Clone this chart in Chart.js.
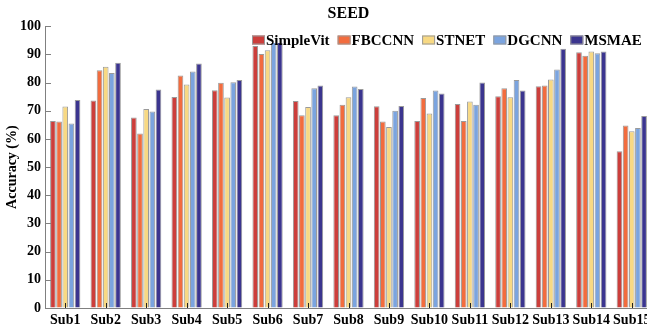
<!DOCTYPE html>
<html>
<head>
<meta charset="utf-8">
<script src="https://cdn.jsdelivr.net/npm/chart.js@4.4.0/dist/chart.umd.min.js"></script>
<style>
  html, body { margin: 0; padding: 0; background: #fff; overflow: hidden; }
</style>
</head>
<body>
<canvas id="mycanvas" width="656" height="331"></canvas>
<script>
var subjects = ["Sub1","Sub2","Sub3","Sub4","Sub5","Sub6","Sub7","Sub8","Sub9","Sub10","Sub11","Sub12","Sub13","Sub14","Sub15"];
var seriesNames = ["SimpleVit","FBCCNN","STNET","DGCNN","MSMAE"];
var simpleVit = [66.4, 73.6, 67.6, 74.9, 77.3, 93.0, 73.5, 68.4, 71.6, 66.4, 72.4, 75.1, 78.7, 90.8, 55.6];
var fbccnn    = [66.2, 84.4, 61.9, 82.5, 79.9, 90.1, 68.4, 72.1, 66.2, 74.5, 66.4, 78.0, 79.0, 89.5, 64.8];
var stnet     = [71.5, 85.6, 70.6, 79.3, 74.7, 91.5, 71.3, 74.8, 64.2, 69.0, 73.3, 74.8, 81.1, 91.0, 62.7];
var dgcnn     = [65.5, 83.4, 69.7, 83.9, 80.1, 94.5, 78.0, 78.6, 70.0, 77.2, 72.1, 80.9, 84.6, 90.4, 63.9];
var msmae     = [73.8, 87.0, 77.5, 86.8, 80.9, 96.0, 79.0, 77.7, 71.7, 76.1, 80.0, 77.2, 92.0, 91.0, 68.1];
var yTicks = [0, 10, 20, 30, 40, 50, 60, 70, 80, 90, 100];

var colors = ["#cc3e3b", "#f26c3e", "#f8d983", "#7ba4df", "#3b358f"];
var serif = "'Liberation Serif', 'Times New Roman', serif";

// small inward tick marks like the original figure
var innerTicks = {
  id: 'innerTicks',
  afterDatasetsDraw: function(chart) {
    var ctx = chart.ctx, area = chart.chartArea, sx = chart.scales.x, sy = chart.scales.y;
    ctx.save();
    ctx.lineWidth = 1;
    ctx.strokeStyle = '#808080';
    yTicks.forEach(function(v) {
      var y = Math.round(sy.getPixelForValue(v)) + 0.5;
      ctx.beginPath(); ctx.moveTo(area.left, y); ctx.lineTo(area.left + 6, y); ctx.stroke();
    });
    ctx.strokeStyle = '#222';
    subjects.forEach(function(s, i) {
      var x = Math.round(sx.getPixelForValue(i)) + 0.5;
      ctx.beginPath(); ctx.moveTo(x, area.bottom); ctx.lineTo(x, area.bottom - 5); ctx.stroke();
    });
    ctx.restore();
  }
};

// legend drawn over the bars with a white background
var overLegend = {
  id: 'overLegend',
  afterDraw: function(chart) {
    var ctx = chart.ctx;
    var x = 252, yc = 40, boxW = 13, boxH = 9;
    ctx.save();
    ctx.font = "bold 15px " + serif;
    ctx.fillStyle = '#fff';
    ctx.fillRect(x - 2, 30, 660 - x, 13);
    ctx.textBaseline = 'middle';
    chart.data.datasets.forEach(function(ds) {
      ctx.fillStyle = ds.backgroundColor;
      ctx.fillRect(x, yc - boxH / 2, boxW, boxH);
      ctx.strokeStyle = '#999';
      ctx.lineWidth = 1;
      ctx.strokeRect(x + 0.5, yc - boxH / 2 + 0.5, boxW - 1, boxH - 1);
      ctx.fillStyle = '#000';
      ctx.fillText(ds.label, x + boxW + 1, yc + 1);
      x += boxW + 1 + ctx.measureText(ds.label).width + 8;
    });
    ctx.restore();
  }
};

var allValues = [simpleVit, fbccnn, stnet, dgcnn, msmae];
var datasets = seriesNames.map(function(name, i) {
  return {
    label: name,
    data: allValues[i],
    backgroundColor: colors[i],
    borderColor: '#9a9a9a',
    borderWidth: 1,
    categoryPercentage: 0.76,
    barPercentage: 0.92
  };
});

var ctx = document.getElementById('mycanvas');
var barGraph = new Chart(ctx, {
  type: 'bar',
  data: { labels: subjects, datasets: datasets },
  plugins: [innerTicks, overLegend],
  options: {
    responsive: false,
    animation: false,
    layout: { padding: { right: 4 } },
    plugins: {
      legend: { display: false },
      tooltip: { enabled: false },
      title: {
        display: true,
        text: 'SEED',
        fullSize: false,
        color: '#000',
        font: { family: serif, size: 16, weight: 'bold' },
        padding: { top: 4, bottom: 3 }
      }
    },
    scales: {
      x: {
        grid: { display: true, drawOnChartArea: false, drawTicks: false },
        border: { display: true, color: '#808080', width: 1 },
        ticks: { color: '#000', font: { family: serif, size: 14, weight: 'bold' }, padding: 4, maxRotation: 0, autoSkip: false },
        afterFit: function(scale) { scale.height = 23; }
      },
      y: {
        min: 0,
        max: 100,
        grid: { display: true, drawOnChartArea: false, drawTicks: false },
        border: { display: true, color: '#808080', width: 1 },
        ticks: { stepSize: 10, color: '#000', font: { family: serif, size: 14, weight: 'bold' }, padding: 4 },
        title: {
          display: true,
          text: 'Accuracy (%)',
          color: '#000',
          font: { family: serif, size: 14, weight: 'bold' },
          padding: { top: 4, bottom: 0 }
        },
        afterFit: function(scale) { scale.width = 45; }
      }
    }
  }
});
</script>
</body>
</html>
